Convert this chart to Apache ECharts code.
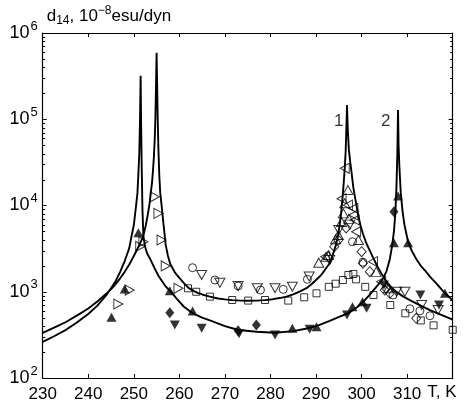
<!DOCTYPE html>
<html>
<head>
<meta charset="utf-8">
<script src="https://cdn.jsdelivr.net/npm/echarts@6/dist/echarts.min.js"></script>
<style>
html,body{margin:0;padding:0;background:#fff;}
#chart{width:466px;height:407px;}
</style>
</head>
<body>
<div id="chart"></div>
<script>
// ---- axis definitions ----
const xMin = 230, xMax = 320, xStep = 10;
const yMin = 100, yMax = 1000000;
const yDecades = [2, 3, 4, 5, 6];
const minorMultipliers = [2, 3, 4, 5, 6, 7, 8, 9];

// ---- fitted curves (T, d14) ----
const curve1 = [
[230,333],[232.5,383],[235,443],[237.5,528],[240,640],[242,770],[244,953],[245.5,1140],[247,1431],[248,1700],[249,2070],[250,2600],[251,3300],[252,4300],[252.6,5800],[253,7500],[253.4,10000],[253.7,13500],[254,18500],[254.2,25000],[254.4,36000],[254.6,60000],[254.75,110000],[254.88,250000],[255,590000],
[255.12,250000],[255.25,100000],[255.4,45000],[255.6,22000],[255.8,14000],[256.1,10000],[256.5,6200],[257.0,3500],[257.5,2600],[258,2100],[259,1680],[260,1450],[261,1260],[262,1110],[263,1030],[264,970],[265,930],[266.7,877],[268.5,835],[270,815],[271.6,800],[273.5,790],[275,785],[277,790],[278.8,800],[280.5,820],[282,845],[283.5,877],[285,930],[286.5,1010],[287.9,1100],[289,1220],[290,1370],[290.8,1500],[291.5,1660],[292.2,1870],[293,2140],[293.7,2700],[294.3,3400],[294.8,4400],[295.2,6000],[295.5,8000],[295.8,12000],[296.1,19000],[296.3,27000],[296.5,42000],[296.65,75000],[296.8,146000],
[296.95,80000],[297.2,45000],[297.5,32000],[297.8,24000],[298.2,16000],[298.8,10500],[299.3,7500],[299.8,5800],[300.3,4700],[301,3700],[301.8,3000],[302.5,2500],[303.5,1950],[304.5,1580],[305.5,1300],[306.5,1130],[307.5,1010],[309,890],[311,780],[313,690],[315,614],[317.5,540],[320,475]
];
const curve2 = [
[230,262],[232.5,305],[235,359],[237.5,440],[240,552],[242,690],[244,917],[246,1327],[247,1700],[248,2272],[249,3200],[249.5,4420],[250,5900],[250.5,10000],[250.8,14000],[251,23000],[251.2,40000],[251.35,90000],[251.5,320000],
[251.6,90000],[251.75,25000],[251.9,9000],[252.1,4400],[252.5,3300],[252.9,2800],[253.5,2450],[254.5,1900],[255.5,1500],[257,1150],[258,1020],[259.5,820],[261,670],[263,560],[265,500],[267,460],[270,400],[273,360],[277,344],[281,335],[285,350],[288,375],[290.1,400],[293,460],[295.2,514],[297.1,565],[299,660],[300.3,760],[302,950],[303.6,1200],[304.7,1420],[305.5,1750],[306.2,2400],[306.7,3400],[307.1,5000],[307.4,8000],[307.65,16000],[307.85,40000],[308,128000],
[308.12,50000],[308.3,28000],[308.6,14000],[309,8500],[309.4,6000],[310.2,3800],[311,3000],[312,2400],[313,2000],[314,1750],[315,1500],[316.4,1250],[317.5,1070],[318.3,960],[319.2,870],[320,790]
];

// ---- measured points ----
const openSquares = [[261.9,1097],[263.7,1000],[266.7,877],[271.6,802],[275.1,790],[278.8,802],[283.9,790],[287.4,862],[290.1,959],[292.8,1140],[294.3,1240],[295.9,1368],[297.1,1563],[298.2,1607],[298.8,1393],[300.8,1140],[302.6,916],[306.3,702],[309.6,562],[313.0,465],[315.8,408],[320,362]];
const openCircles = [[262.9,1900],[267.8,1368],[272.9,1166],[277.8,1047],[282.8,1067],[288.1,1393],[298.0,3800],[300.3,2200],[306.9,916],[310.6,635],[312.8,600],[315.0,527]];
const openDown = [[264.9,1563],[268.9,1273],[272.9,1166],[277.1,1097],[281,1097],[284.8,1145],[288.5,1500],[293.0,2336],[295.0,5200],[297.4,6000],[307.7,1000],[309.5,1000],[313.2,702],[316.8,614]];
const openUp = [[290.6,2173],[292.2,2546],[292.7,2670],[294.3,4060],[294.9,4550],[295.6,6440],[296.0,8100],[296.3,10600],[297.0,15100],[297.2,7000],[299.3,3980],[303.2,1700],[305.9,1100]];
const openLeft = [[292.0,2546],[295.6,12000],[296.3,27000],[297.0,10100],[298.2,9270],[298.5,6790],[298.8,4970],[298.2,7770],[302.5,2234],[304.3,1310]];
const openRight = [[246.6,721],[249.1,1047],[251.4,3350],[252.1,3800],[254.6,12600],[255.4,8100],[256.1,3980],[257.0,1990],[259.8,1097]];
const openDiamonds = [[294.0,3330],[294.9,3980],[296.6,5500],[300.0,2910],[300.3,2136],[301.8,1706],[305.1,1047],[305.4,1097],[306.2,959],[312.0,492]];
const filledUp = [[245.1,506],[248.0,1077],[251.0,4840],[257.9,1028],[262.9,598],[284.8,377],[290.1,394],[298.0,671],[300.2,767],[307.1,3710],[308.0,12900],[310.2,3710],[318.3,959]];
const filledDown = [[259.0,411],[264.9,377],[273.1,325],[281.0,315],[288.6,367],[296.8,537],[301.1,643],[304.9,1197],[312.9,916],[317.0,702]];
const filledDiamonds = [[257.9,571],[272.9,352],[276.9,411],[307.1,8480]];

// ---- curve labels ----
const curveLabels = [{name:'1', value:[295.0,95500]},{name:'2', value:[305.3,95500]}];

const FONT = "'Liberation Sans', Arial, Helvetica, sans-serif";
const minorTickData = [];
yDecades.slice(0, -1).forEach(function(e){
  minorMultipliers.forEach(function(m){ minorTickData.push([xMin, m * Math.pow(10, e)]); });
});

const chart = echarts.init(document.getElementById('chart'), null, {renderer:'canvas'});

function openSeries(data, symbol, rotate, size){
  return {type:'scatter', data:data, symbol:symbol, symbolRotate:rotate, symbolSize:size,
    itemStyle:{color:'rgba(0,0,0,0)', borderColor:'#000', borderWidth:1}, z:3, silent:true};
}
function filledSeries(data, symbol, rotate, size){
  return {type:'scatter', data:data, symbol:symbol, symbolRotate:rotate, symbolSize:size,
    itemStyle:{color:'#000', borderColor:'#000', borderWidth:0}, z:3, silent:true};
}
function curveSeries(data){
  return {type:'line', data:data, showSymbol:false, symbol:'none', smooth:false,
    lineStyle:{color:'#000', width:1.9}, z:2, silent:true};
}

const option = {
  animation:false,
  backgroundColor:'#fff',
  grid:{left:42.7, right:13.3, top:33, bottom:29, containLabel:false, outerBoundsMode:'none'},
  xAxis:[{
    type:'value', min:xMin, max:xMax, interval:xStep, position:'bottom',
    axisLine:{show:true, lineStyle:{color:'#000', width:1.2}},
    axisTick:{show:true, inside:true, length:4, lineStyle:{color:'#000'}},
    splitLine:{show:false},
    axisLabel:{margin:8, color:'#000', fontSize:17, fontFamily:FONT,
      formatter:function(v){ return v >= xMax ? '' : String(v); }},
    name:'T, K', nameLocation:'end', nameGap:-28,
    nameTextStyle:{color:'#000', fontSize:17, fontFamily:FONT, align:'left', verticalAlign:'top', padding:[6,0,0,0]}
  },{
    type:'value', min:xMin, max:xMax, interval:xStep, position:'top',
    axisLine:{show:true, lineStyle:{color:'#000', width:1.2}},
    axisTick:{show:true, inside:true, length:4, lineStyle:{color:'#000'}},
    axisLabel:{show:false}, splitLine:{show:false}
  }],
  yAxis:[{
    type:'log', logBase:10, min:yMin, max:yMax, position:'left',
    axisLine:{show:true, lineStyle:{color:'#000', width:1.2}},
    axisTick:{show:true, inside:true, length:4, lineStyle:{color:'#000'}},
    splitLine:{show:false},
    axisLabel:{margin:5, color:'#000', fontFamily:FONT,
      formatter:function(v){ return '{b|10}{s|' + Math.round(Math.log10(v)) + '}'; },
      rich:{b:{fontSize:18, fontFamily:FONT, color:'#000'}, s:{fontSize:13, fontFamily:FONT, color:'#000', padding:[0,0,14,1]}}},
    name:'{n|d}{sub|14}{n|, 10}{sup|−8}{n|esu/dyn}', nameLocation:'end', nameGap:5,
    nameTextStyle:{align:'left', verticalAlign:'bottom', padding:[0,0,0,4],
      rich:{n:{fontSize:17, fontFamily:FONT, color:'#000'},
            sub:{fontSize:12, fontFamily:FONT, color:'#000', padding:[9,0,0,0]},
            sup:{fontSize:12, fontFamily:FONT, color:'#000', padding:[0,0,11,0]}}}
  },{
    type:'log', logBase:10, min:yMin, max:yMax, position:'right',
    axisLine:{show:true, lineStyle:{color:'#000', width:1.2}},
    axisTick:{show:true, inside:true, length:4, lineStyle:{color:'#000'}},
    axisLabel:{show:false}, splitLine:{show:false}
  }],
  series:[
    curveSeries(curve1),
    curveSeries(curve2),
    openSeries(openSquares, 'rect', 0, 7),
    openSeries(openCircles, 'circle', 0, 8),
    openSeries(openDown, 'triangle', 180, [10,9]),
    openSeries(openUp, 'triangle', 0, [10,9]),
    openSeries(openLeft, 'triangle', 90, [10,9]),
    openSeries(openRight, 'triangle', -90, [10,9]),
    openSeries(openDiamonds, 'diamond', 0, [9,10]),
    filledSeries(filledUp, 'triangle', 0, [10,9]),
    filledSeries(filledDown, 'triangle', 180, [10,9]),
    filledSeries(filledDiamonds, 'diamond', 0, [9,11]),
    {type:'custom', data:minorTickData, silent:true, clip:false, z:4,
     encode:{x:0, y:1},
     renderItem:function(params, api){
       const pL = api.coord([xMin, api.value(1)]);
       const pR = api.coord([xMax, api.value(1)]);
       const yy = Math.round(pL[1]) + 0.5;
       return {type:'group', children:[
         {type:'line', shape:{x1:pL[0], y1:yy, x2:pL[0]+2.5, y2:yy}, style:{stroke:'#000', lineWidth:1}},
         {type:'line', shape:{x1:pR[0]-2.5, y1:yy, x2:pR[0], y2:yy}, style:{stroke:'#000', lineWidth:1}}
       ]};
     }},
    {type:'scatter', data:curveLabels, symbolSize:1, itemStyle:{color:'rgba(0,0,0,0)'}, silent:true,
     label:{show:true, position:'inside', formatter:'{b}', color:'#000', fontSize:17, fontFamily:FONT}}
  ]
};
chart.setOption(option);
</script>
</body>
</html>
